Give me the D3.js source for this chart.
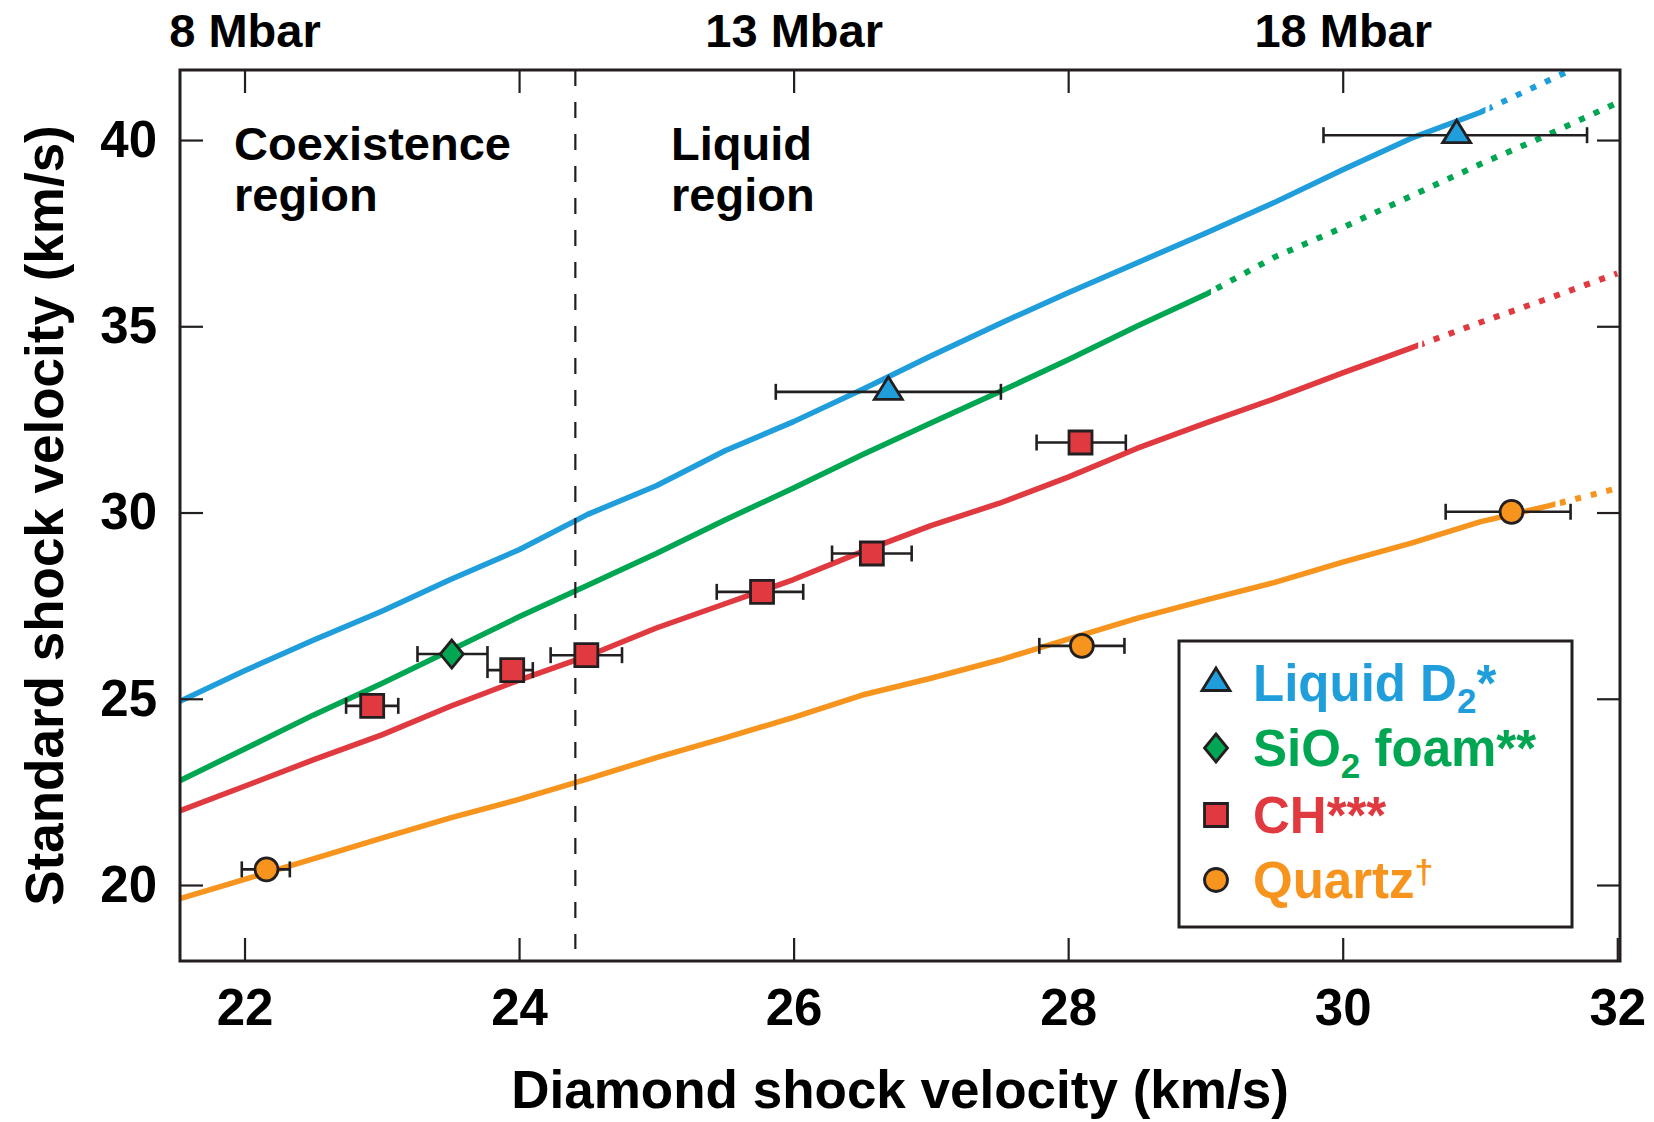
<!DOCTYPE html>
<html>
<head>
<meta charset="utf-8">
<script src="https://cdn.jsdelivr.net/npm/d3@7"></script>
<style>
body { margin: 0; background: #fff; }
svg text { font-family: "Liberation Sans", Arial, Helvetica, sans-serif; font-weight: bold; }
</style>
</head>
<body>
<div id="chart"></div>
<script>
// fitted curves, sampled every 0.5 km/s of diamond shock velocity
var gridX = [21.5, 22, 22.5, 23, 23.5, 24, 24.5, 25, 25.5, 26, 26.5, 27, 27.5, 28, 28.5, 29, 29.5, 30, 30.5, 31, 31.5, 32];
var d2Curve = [24.88, 25.75, 26.57, 27.35, 28.2, 29.0, 29.95, 30.72, 31.66, 32.44, 33.3, 34.2, 35.07, 35.9, 36.7, 37.5, 38.32, 39.2, 40.05, 40.74, 41.6, 42.46];
var foamCurve = [22.75, 23.65, 24.56, 25.41, 26.3, 27.2, 28.05, 28.9, 29.8, 30.66, 31.55, 32.4, 33.24, 34.1, 35.0, 35.85, 36.85, 37.65, 38.5, 39.35, 40.15, 41.0];
var chCurve = [21.95, 22.65, 23.36, 24.03, 24.8, 25.5, 26.15, 26.9, 27.55, 28.2, 28.95, 29.65, 30.25, 30.95, 31.72, 32.4, 33.05, 33.75, 34.42, 35.1, 35.75, 36.42];
var quartzCurve = [19.6, 20.15, 20.7, 21.26, 21.8, 22.3, 22.85, 23.42, 23.95, 24.5, 25.1, 25.55, 26.04, 26.6, 27.16, 27.65, 28.12, 28.67, 29.18, 29.75, 30.18, 30.65];
// where each curve turns from solid to dotted (extrapolation)
var solidEnd = [31.04, 29.04, 30.55, 31.55];

// measured points: x, y, x error range
var d2X = [26.69, 30.83], d2Y = [33.24, 40.13], d2Lo = [25.87, 29.86], d2Hi = [27.51, 31.78];
var foamX = [23.51], foamY = [26.2], foamLo = [23.26], foamHi = [23.77];
var chX = [22.93, 23.95, 24.49, 25.77, 26.57, 28.09], chY = [24.81, 25.77, 26.17, 27.87, 28.9, 31.88];
var chLo = [22.74, 23.77, 24.23, 25.44, 26.28, 27.77], chHi = [23.12, 24.10, 24.75, 26.07, 26.86, 28.42];
var quartzX = [22.16, 28.1, 31.23], quartzY = [20.42, 26.42, 30.02], quartzLo = [21.98, 27.79, 30.75], quartzHi = [22.33, 28.41, 31.66];

var names = ["Liquid D", "SiO", "CH", "Quartz"];
var colors = ["#1f9edb", "#00a651", "#e03a40", "#f7941d"];
var xTicks = [22, 24, 26, 28, 30, 32];
var yTicks = [20, 25, 30, 35, 40];
var pressureX = [22, 26, 30];
var pressureLabels = ["8 Mbar", "13 Mbar", "18 Mbar"];
var meltX = 24.41;

var W = 1654, H = 1122;
var pL = 180, pR = 1620, pT = 70, pB = 961;
var dark = "#231f20";

var svg = d3.select("#chart").append("svg")
	.attr("width", W)
	.attr("height", H);

var x = d3.scaleLinear().domain([21.53, 32.02]).range([pL, pR]);
var y = d3.scaleLinear().domain([17.96, 41.88]).range([pB, pT]);

var defs = svg.append("defs");
defs.append("clipPath").attr("id", "plot-clip")
	.append("rect")
	.attr("x", pL).attr("y", pT)
	.attr("width", pR - pL).attr("height", pB - pT);

var curves = [d2Curve, foamCurve, chCurve, quartzCurve];
var line = d3.line()
	.x(function(d, i) { return x(gridX[i]); })
	.y(function(d) { return y(d); });

var plot = svg.append("g").attr("clip-path", "url(#plot-clip)");

for (var k = 0; k < curves.length; k++)
{
	defs.append("clipPath").attr("id", "solid-" + k)
		.append("rect")
		.attr("x", 0).attr("y", 0)
		.attr("width", x(solidEnd[k])).attr("height", H);
	defs.append("clipPath").attr("id", "dot-" + k)
		.append("rect")
		.attr("x", x(solidEnd[k]) + 4).attr("y", 0)
		.attr("width", W - x(solidEnd[k])).attr("height", H);

	plot.append("g").attr("clip-path", "url(#solid-" + k + ")")
		.append("path")
		.attr("d", line(curves[k]))
		.attr("fill", "none")
		.attr("stroke", colors[k])
		.attr("stroke-width", 5.5)
		.attr("stroke-linejoin", "round");

	plot.append("g").attr("clip-path", "url(#dot-" + k + ")")
		.append("path")
		.attr("d", line(curves[k]))
		.attr("fill", "none")
		.attr("stroke", colors[k])
		.attr("stroke-width", 6)
		.attr("stroke-dasharray", "6 10");
}

// coexistence / liquid boundary
svg.append("line")
	.attr("x1", x(meltX)).attr("x2", x(meltX))
	.attr("y1", pT).attr("y2", 949)
	.attr("stroke", dark)
	.attr("stroke-width", 2.2)
	.attr("stroke-dasharray", "16 16");

svg.append("text").attr("x", 234).attr("y", 160).attr("font-size", 47).attr("fill", "#000").text("Coexistence");
svg.append("text").attr("x", 234).attr("y", 211).attr("font-size", 47).attr("fill", "#000").text("region");
svg.append("text").attr("x", 671).attr("y", 160).attr("font-size", 47).attr("fill", "#000").text("Liquid");
svg.append("text").attr("x", 671).attr("y", 211).attr("font-size", 47).attr("fill", "#000").text("region");

// markers
var shapes = [
	"M0,-15L14,7.5L-14,7.5Z",
	"M0,-14L11.5,0L0,14L-11.5,0Z",
	"M-11.5,-11.5H11.5V11.5H-11.5Z",
	"M-11.5,0A11.5,11.5 0 1,0 11.5,0A11.5,11.5 0 1,0 -11.5,0Z"
];

var sets = [
	[d2X, d2Y, d2Lo, d2Hi],
	[foamX, foamY, foamLo, foamHi],
	[chX, chY, chLo, chHi],
	[quartzX, quartzY, quartzLo, quartzHi]
];

var marks = svg.append("g");
sets.forEach(function(s, k)
{
	var g = marks.append("g");
	var pts = s[0].map(function(v, i) { return i; });
	g.selectAll("line.bar")
		.data(pts)
		.enter()
		.append("line")
		.attr("class", "bar")
		.attr("x1", function(i) { return x(s[2][i]); })
		.attr("x2", function(i) { return x(s[3][i]); })
		.attr("y1", function(i) { return y(s[1][i]); })
		.attr("y2", function(i) { return y(s[1][i]); })
		.attr("stroke", dark)
		.attr("stroke-width", 2.6);
	[2, 3].forEach(function(c)
	{
		g.selectAll("line.cap" + c)
			.data(pts)
			.enter()
			.append("line")
			.attr("class", "cap" + c)
			.attr("x1", function(i) { return x(s[c][i]); })
			.attr("x2", function(i) { return x(s[c][i]); })
			.attr("y1", function(i) { return y(s[1][i]) - 8; })
			.attr("y2", function(i) { return y(s[1][i]) + 8; })
			.attr("stroke", dark)
			.attr("stroke-width", 2.6);
	});
	g.selectAll("path")
		.data(pts)
		.enter()
		.append("path")
		.attr("d", shapes[k])
		.attr("transform", function(i) { return "translate(" + x(s[0][i]) + "," + y(s[1][i]) + ")"; })
		.attr("fill", colors[k])
		.attr("stroke", dark)
		.attr("stroke-width", 2.8);
});

// legend
var legend = svg.append("g");
legend.append("rect")
	.attr("x", 1179).attr("y", 641)
	.attr("width", 393).attr("height", 286)
	.attr("fill", "#fff")
	.attr("stroke", dark)
	.attr("stroke-width", 3);

var legY = [701, 766, 833, 898];
names.forEach(function(n, k)
{
	legend.append("path")
		.attr("d", shapes[k])
		.attr("transform", "translate(1216," + (legY[k] - 18) + ")")
		.attr("fill", colors[k])
		.attr("stroke", dark)
		.attr("stroke-width", 2.8);
	var t = legend.append("text")
		.attr("x", 1253).attr("y", legY[k])
		.attr("font-size", 51)
		.attr("fill", colors[k]);
	t.append("tspan").text(n);
	if (k == 0)
	{
		t.append("tspan").attr("font-size", 35).attr("dy", 12).text("2");
		t.append("tspan").attr("dy", -12).text("*");
	}
	else if (k == 1)
	{
		t.append("tspan").attr("font-size", 35).attr("dy", 12).text("2");
		t.append("tspan").attr("dy", -12).text(" foam**");
	}
	else if (k == 2)
	{
		t.append("tspan").text("***");
	}
	else
	{
		t.append("tspan").attr("font-size", 34).attr("dy", -15).text("\u2020");
	}
});

// axes, ticks pointing inward
var axisB = svg.append("g")
	.attr("transform", "translate(0," + pB + ")")
	.call(d3.axisBottom(x).tickValues(xTicks).tickSize(-23).tickPadding(28).tickFormat(d3.format("d")));
var axisT = svg.append("g")
	.attr("transform", "translate(0," + pT + ")")
	.call(d3.axisTop(x).tickValues(xTicks.slice(0, 5)).tickSize(-23).tickPadding(23)
		.tickFormat(function(d)
		{
			var i = pressureX.indexOf(d);
			return i < 0 ? "" : pressureLabels[i];
		}));
var axisL = svg.append("g")
	.attr("transform", "translate(" + pL + ",0)")
	.call(d3.axisLeft(y).tickValues(yTicks).tickSize(-23).tickPadding(23).tickFormat(d3.format("d")));
var axisR = svg.append("g")
	.attr("transform", "translate(" + pR + ",0)")
	.call(d3.axisRight(y).tickValues(yTicks).tickSize(-23).tickFormat(""));

[axisB, axisT, axisL, axisR].forEach(function(a)
{
	a.select(".domain").remove();
	a.selectAll(".tick line").attr("stroke", dark).attr("stroke-width", 2.2);
	a.selectAll(".tick text")
		.attr("fill", "#000")
		.attr("font-size", 51);
	a.attr("font-family", null).attr("font-size", null);
});
axisT.selectAll(".tick text").attr("font-size", 47);

svg.append("rect")
	.attr("x", pL).attr("y", pT)
	.attr("width", pR - pL).attr("height", pB - pT)
	.attr("fill", "none")
	.attr("stroke", dark)
	.attr("stroke-width", 3);

svg.append("text")
	.attr("x", (pL + pR) / 2).attr("y", 1108)
	.attr("text-anchor", "middle")
	.attr("font-size", 53)
	.attr("fill", "#000")
	.text("Diamond shock velocity (km/s)");

svg.append("text")
	.attr("transform", "translate(63," + (pT + pB) / 2 + ") rotate(-90)")
	.attr("text-anchor", "middle")
	.attr("font-size", 53)
	.attr("fill", "#000")
	.text("Standard shock velocity (km/s)");
</script>
</body>
</html>
